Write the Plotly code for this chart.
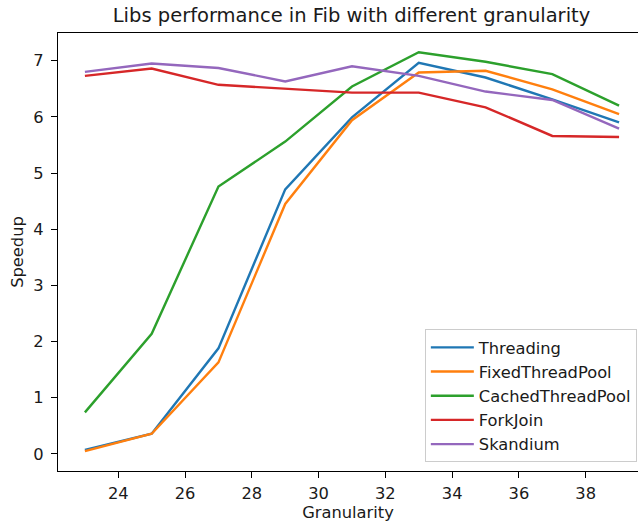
import plotly.graph_objects as go

granularity = [23, 25, 27, 29, 31, 33, 35, 37, 39]
threading = [0.07, 0.36, 1.88, 4.71, 5.99, 6.96, 6.70, 6.31, 5.90]
fixed_pool = [0.05, 0.36, 1.63, 4.45, 5.94, 6.79, 6.82, 6.49, 6.05]
cached_pool = [0.74, 2.14, 4.76, 5.56, 6.54, 7.15, 6.98, 6.76, 6.20]
fork_join = [6.73, 6.86, 6.57, 6.50, 6.43, 6.43, 6.17, 5.66, 5.64]
skandium = [6.80, 6.95, 6.87, 6.63, 6.90, 6.73, 6.45, 6.30, 5.79]

series_names = ["Threading", "FixedThreadPool", "CachedThreadPool", "ForkJoin", "Skandium"]
series_values = [threading, fixed_pool, cached_pool, fork_join, skandium]
colors = ["#1f77b4", "#ff7f0e", "#2ca02c", "#d62728", "#9467bd"]

x_ticks = [24, 26, 28, 30, 32, 34, 36, 38]
y_ticks = [0, 1, 2, 3, 4, 5, 6, 7]

FONT = "DejaVu Sans"
fig = go.Figure()
for name, vals, col in zip(series_names, series_values, colors):
    fig.add_trace(go.Scatter(x=granularity, y=vals, mode="lines", name=name,
                             line=dict(color=col, width=2.4)))

axis_common = dict(
    showgrid=False, zeroline=False, showline=True, linecolor="black", linewidth=1.3,
    ticks="outside", ticklen=6, tickwidth=1.3, tickcolor="black",
    tickfont=dict(family=FONT, size=16.3, color="#1a1a1a"),
)

fig.update_layout(
    width=638, height=522,
    margin=dict(l=58, r=0, t=33, b=51),
    paper_bgcolor="white", plot_bgcolor="white",
    font=dict(family=FONT, size=16.3, color="#1a1a1a"),
    title=dict(text="Libs performance in Fib with different granularity",
               x=(58 + 645) / 2 / 638, xanchor="center",
               y=1 - 15 / 522, yanchor="middle", yref="container",
               font=dict(family=FONT, size=19.5, color="#1a1a1a")),
    xaxis=dict(range=[22.194, 39.567], tickvals=x_ticks, mirror=True,
               title=dict(text="Granularity", standoff=7,
                          font=dict(family=FONT, size=16.3)),
               ticklabelstandoff=1,
               **axis_common),
    yaxis=dict(range=[-0.303, 7.492], tickvals=y_ticks,
               title=dict(text="Speedup", standoff=5,
                          font=dict(family=FONT, size=16.3)),
               ticklabelstandoff=4,
               **axis_common),
    legend=dict(x=0.998, xanchor="right", y=0.02, yanchor="bottom",
                itemwidth=43,
                bgcolor="rgba(255,255,255,0.8)", bordercolor="#cccccc", borderwidth=1,
                font=dict(family=FONT, size=16.3, color="#1a1a1a")),
    showlegend=True,
)

fig.write_html("out.html")
